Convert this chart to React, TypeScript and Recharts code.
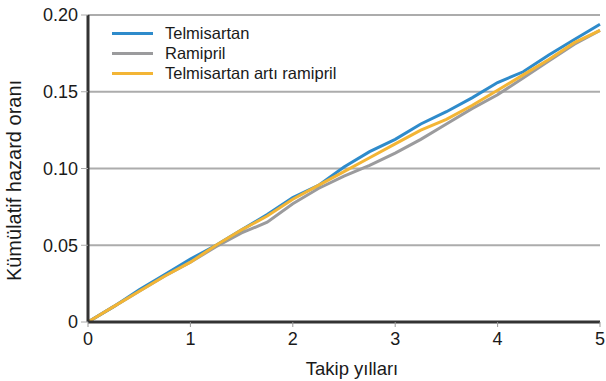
import { LineChart, Line, XAxis, YAxis, CartesianGrid } from "recharts";

// follow-up years
const years = [0, 0.25, 0.5, 0.75, 1, 1.25, 1.5, 1.75, 2, 2.25, 2.5, 2.75, 3, 3.25, 3.5, 3.75, 4, 4.25, 4.5, 4.75, 5];

const telmisartan = [0, 0.01, 0.021, 0.031, 0.041, 0.05, 0.06, 0.07, 0.081, 0.089, 0.101, 0.111, 0.119, 0.129, 0.137, 0.146, 0.156, 0.163, 0.174, 0.184, 0.194];
const ramipril = [0, 0.01, 0.02, 0.03, 0.039, 0.049, 0.058, 0.065, 0.077, 0.087, 0.095, 0.102, 0.11, 0.119, 0.129, 0.139, 0.148, 0.159, 0.17, 0.181, 0.19];
const combo = [0, 0.01, 0.02, 0.03, 0.039, 0.05, 0.06, 0.069, 0.08, 0.089, 0.098, 0.107, 0.116, 0.125, 0.132, 0.141, 0.151, 0.161, 0.171, 0.182, 0.19];

const xTicks = [0, 1, 2, 3, 4, 5];
const yTicks = [0, 0.05, 0.1, 0.15, 0.2];

const seriesInfo = [
  { key: "telmisartan", name: "Telmisartan", color: "#2e8bcb" },
  { key: "ramipril", name: "Ramipril", color: "#9b9b9d" },
  { key: "combo", name: "Telmisartan artı ramipril", color: "#f3b535" },
];

const data = years.map((t, i) => ({
  t,
  telmisartan: telmisartan[i],
  ramipril: ramipril[i],
  combo: combo[i],
}));

const font = "'Liberation Sans', Arial, sans-serif";

function LegendBox() {
  return (
    <div style={{ position: "absolute", left: 112, top: 23, fontFamily: font, fontSize: 16.5, color: "#1a1a1a" }}>
      {seriesInfo.map((s) => (
        <div key={s.key} style={{ display: "flex", alignItems: "center", height: 20 }}>
          <span style={{ display: "inline-block", width: 41, height: 3, background: s.color, marginRight: 12 }} />
          <span>{s.name}</span>
        </div>
      ))}
    </div>
  );
}

export default function App() {
  return (
    <div style={{ position: "absolute", left: 0, top: 0, width: 606, height: 381, background: "#fff" }}>
      <LineChart width={606} height={381} data={data} margin={{ top: 15, right: 6, bottom: 0, left: 0 }}>
        <CartesianGrid horizontal vertical={false} stroke="#acacac" strokeWidth={2} />
        <XAxis
          dataKey="t"
          type="number"
          domain={[0, 5]}
          ticks={xTicks}
          height={59}
          stroke="#333"
          strokeWidth={3}
          tickSize={5}
          tickLine={{ stroke: "#999", strokeWidth: 1 }}
          tick={{ fill: "#1a1a1a", fontSize: 18, fontFamily: font }}
          tickMargin={5}
          label={{ value: "Takip yılları", position: "insideBottom", offset: 6, dx: 8, fill: "#1a1a1a", fontSize: 18.5, fontFamily: font }}
        />
        <YAxis
          type="number"
          width={88}
          domain={[0, 0.2]}
          ticks={yTicks}
          interval={0}
          tickFormatter={(v: number) => (v === 0 ? "0" : v.toFixed(2))}
          stroke="#333"
          strokeWidth={3}
          tickSize={7}
          tickLine={{ stroke: "#aaa", strokeWidth: 1 }}
          tick={{ fill: "#1a1a1a", fontSize: 18, fontFamily: font }}
          tickMargin={3}
          label={{ value: "Kümülatif hazard oranı", angle: -90, position: "center", dx: -30, dy: 12, fill: "#1a1a1a", fontSize: 20, fontFamily: font }}
        />
        <Line type="linear" dataKey="ramipril" name="Ramipril" stroke="#9b9b9d" strokeWidth={3} dot={false} isAnimationActive={false} />
        <Line type="linear" dataKey="telmisartan" name="Telmisartan" stroke="#2e8bcb" strokeWidth={3} dot={false} isAnimationActive={false} />
        <Line type="linear" dataKey="combo" name="Telmisartan artı ramipril" stroke="#f3b535" strokeWidth={3} dot={false} isAnimationActive={false} />
      </LineChart>
      <LegendBox />
    </div>
  );
}
